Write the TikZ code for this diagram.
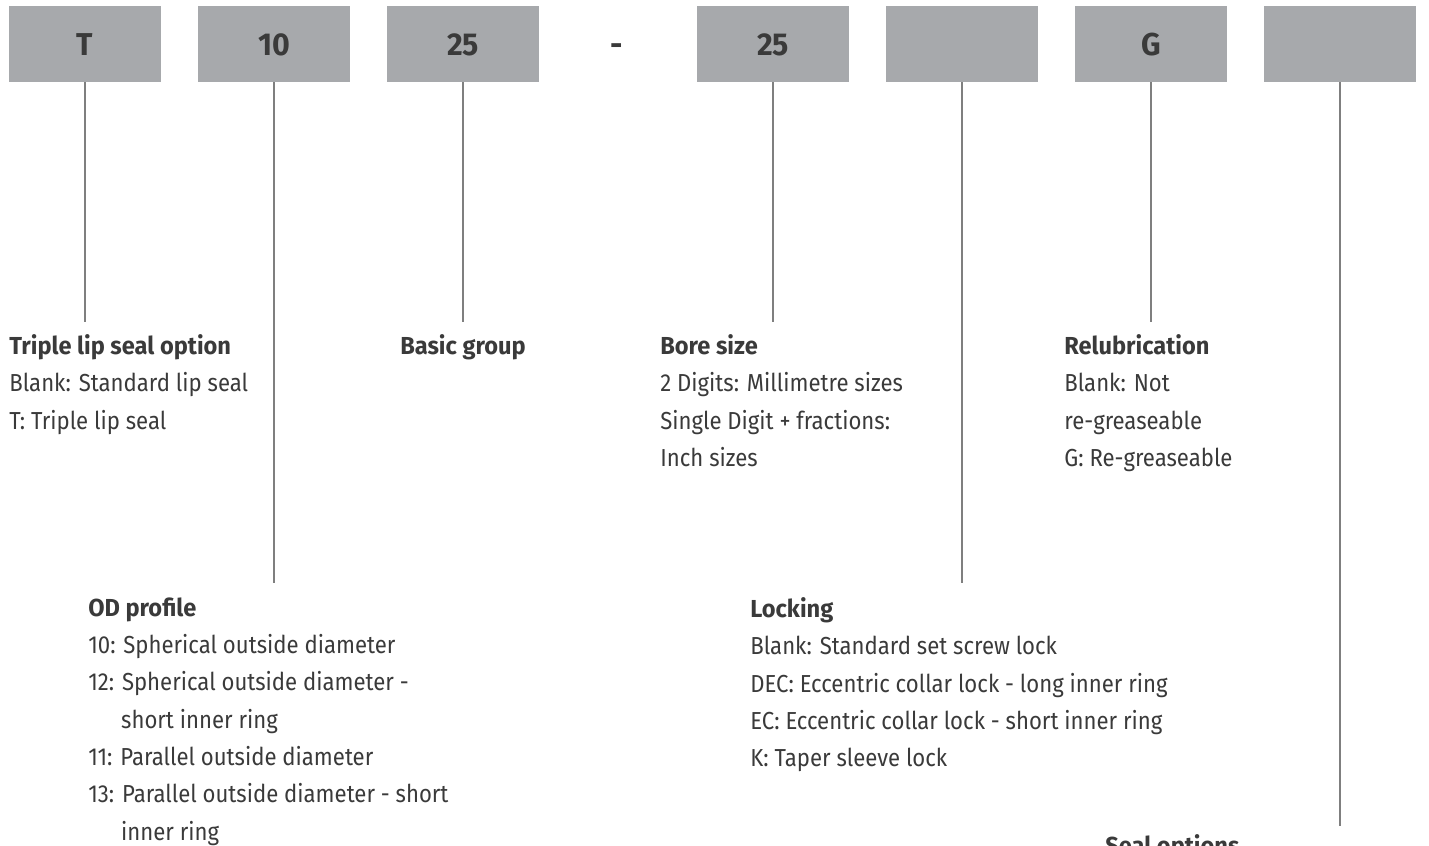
\documentclass[tikz,border=0pt]{standalone}
\usepackage{fontspec}
\setmainfont{Fira Sans}[FakeStretch=0.9, BoldFeatures={FakeStretch=0.96}]
\usetikzlibrary{positioning}

\definecolor{boxgray}{HTML}{A7A9AC}
\definecolor{linegray}{HTML}{7F7F7F}
\definecolor{textgray}{HTML}{3A3A3A}

\tikzset{
  codebox/.style={fill=boxgray, minimum width=3.04cm, minimum height=1.52cm, inner sep=0pt,
    text height=13.5pt, text depth=0pt, text=textgray,
    font=\fontsize{18}{20}\selectfont\bfseries},
  lead/.style={draw=linegray, line width=0.6pt},
  desc/.style={anchor=north west, inner sep=0pt, align=left, text=textgray,
    font=\fontsize{14}{21.26}\selectfont}
}

\begin{document}
\begin{tikzpicture}[x=0.02cm, y=-0.02cm]
  \useasboundingbox (0,0) rectangle (1429,845);
  \clip (0,0) rectangle (1429,845);

  % code boxes
  \node[codebox] (bT) at (85,44) {T};
  \node[codebox] (bOD) at (274,44) {10};
  \node[codebox] (bGrp) at (463,44) {25};
  \node[codebox, fill=none] (bDash) at (617,44) {-};
  \node[codebox] (bBore) at (773,44) {25};
  \node[codebox] (bLock) at (962,44) {};
  \node[codebox] (bLub) at (1151,44) {G};
  \node[codebox] (bSeal) at (1340,44) {};

  % line ends
  \coordinate (eT) at (85,322);
  \coordinate (eOD) at (274,583);
  \coordinate (eGrp) at (463,322);
  \coordinate (eBore) at (773,322);
  \coordinate (eLock) at (962,583);
  \coordinate (eLub) at (1151,322);
  \coordinate (eSeal) at (1340,826);

  % descriptions
  \node[desc] (dT) at (9,334) {\textbf{Triple lip seal option}\\
    Blank: Standard lip seal\\T: Triple lip seal};
  \node[desc, anchor=north] (dGrp) at (463,334) {\textbf{Basic group}};
  \node[desc] (dBore) at (660,334) {\textbf{Bore size}\\
    2 Digits: Millimetre sizes\\Single Digit + fractions:\\Inch sizes};
  \node[desc] (dLub) at (1064,334) {\textbf{Relubrication}\\
    Blank: Not\\re-greaseable\\G: Re-greaseable};
  \node[desc] (dOD) at (88,597) {\textbf{OD profile}\\
    10: Spherical outside diameter\\
    12: Spherical outside diameter -\\
    \hspace*{18.7pt}short inner ring\\
    11: Parallel outside diameter\\
    13: Parallel outside diameter - short\\
    \hspace*{18.7pt}inner ring};
  \node[desc] (dLock) at (750,597) {\textbf{Locking}\\
    Blank: Standard set screw lock\\
    DEC: Eccentric collar lock - long inner ring\\
    EC: Eccentric collar lock - short inner ring\\
    K: Taper sleeve lock};
  \node[desc] (dSeal) at (1105,834) {\textbf{Seal options}};

  % leader lines
  \draw[lead] (bT) -- (eT);
  \draw[lead] (bOD) -- (eOD);
  \draw[lead] (bGrp) -- (eGrp);
  \draw[lead] (bBore) -- (eBore);
  \draw[lead] (bLock) -- (eLock);
  \draw[lead] (bLub) -- (eLub);
  \draw[lead] (bSeal) -- (eSeal);
\end{tikzpicture}
\end{document}
